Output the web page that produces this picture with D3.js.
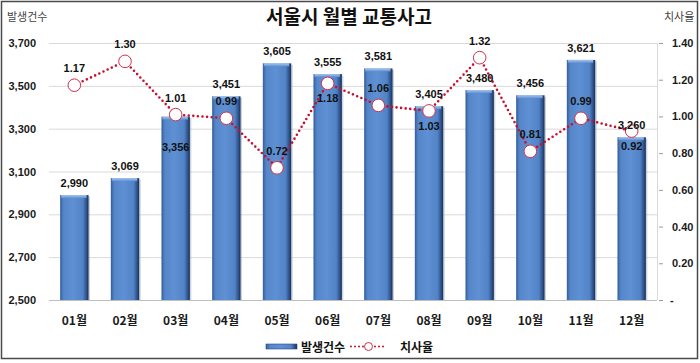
<!DOCTYPE html>
<html><head><meta charset="utf-8">
<script src="https://cdn.jsdelivr.net/npm/d3@7"></script>
<style>
body{margin:0;background:#fff;}
svg{display:block;font-family:"Noto Sans CJK KR","Noto Sans",sans-serif;}
</style></head><body>
<svg id="c" width="700" height="363"></svg>
<script>
const months = ["01월","02월","03월","04월","05월","06월","07월","08월","09월","10월","11월","12월"];
const accidents = [2990,3069,3356,3451,3605,3555,3581,3405,3480,3456,3621,3260];
const fatality = [1.17,1.30,1.01,0.99,0.72,1.18,1.06,1.03,1.32,0.81,0.99,0.92];
const leftTicks = [2500,2700,2900,3100,3300,3500,3700];
const rightTicks = [0,0.2,0.4,0.6,0.8,1.0,1.2,1.4];
const barLabelPos = ["above","above","inside","above","above","above","above","above","above","above","above","above"];
const rateLabelPos = ["above","above","above","above","above","below","above","below","above","above","above","below"];

const svg = d3.select("#c");
const m = {l:49, r:657, t:43, b:300};
const x = d3.scaleBand().domain(months).range([m.l, m.r]).paddingInner(0.44).paddingOuter(0.22);
const yL = d3.scaleLinear().domain([2500,3700]).range([m.b, m.t]);
const yR = d3.scaleLinear().domain([0,1.4]).range([m.b, m.t]);

const defs = svg.append("defs");
const g = defs.append("linearGradient").attr("id","bar").attr("x1","0").attr("x2","1").attr("y1","0").attr("y2","0");
[[0,"#355d9c"],[0.12,"#5586c8"],[0.45,"#5f90d4"],[0.8,"#5283c6"],[0.92,"#2f5590"],[1,"#1a2f52"]].forEach(s=>g.append("stop").attr("offset",s[0]).attr("stop-color",s[1]));
const gt = defs.append("linearGradient").attr("id","bartop").attr("x1","0").attr("x2","0").attr("y1","0").attr("y2","1");
[[0,"#a9c6ee"],[1,"#5f90d4"]].forEach(s=>gt.append("stop").attr("offset",s[0]).attr("stop-color",s[1]));

// border
svg.append("rect").attr("x",1.5).attr("y",1.5).attr("width",696).attr("height",357)
  .attr("fill","#fff").attr("stroke","#4a4a4a").attr("stroke-width",1.5);

// gridlines
svg.append("g").selectAll("line").data(leftTicks).join("line")
  .attr("x1",m.l).attr("x2",m.r).attr("y1",d=>yL(d)+0.5).attr("y2",d=>yL(d)+0.5)
  .attr("stroke",d=>d===2500?"#bfbfbf":"#d9d9d9").attr("stroke-width",1);
// plot right border
svg.append("line").attr("x1",m.r+0.5).attr("x2",m.r+0.5).attr("y1",m.t).attr("y2",m.b).attr("stroke","#d9d9d9");

// left axis labels
svg.append("g").selectAll("text").data(leftTicks).join("text")
  .attr("x",36).attr("y",d=>yL(d)+4).attr("text-anchor","end")
  .attr("font-size",11).attr("font-weight","bold").attr("fill","#1a1a1a").attr("font-family","'Liberation Sans',Arial,sans-serif")
  .text(d3.format(","));
// right axis ticks/labels
svg.append("g").selectAll("line").data(rightTicks).join("line")
  .attr("x1",m.r+2).attr("x2",m.r+6).attr("y1",d=>yR(d)+0.5).attr("y2",d=>yR(d)+0.5).attr("stroke","#9a9a9a");
svg.append("g").selectAll("text").data(rightTicks).join("text")
  .attr("x",d=>d===0?670:672).attr("y",d=>yR(d)+4)
  .attr("font-size",11).attr("font-weight","bold").attr("fill","#1a1a1a").attr("font-family","'Liberation Sans',Arial,sans-serif")
  .text(d=>d===0?"-":d3.format(".2f")(d));

// axis titles
svg.append("text").attr("x",7).attr("y",21).attr("font-size",11).attr("fill","#444").text("발생건수");
svg.append("text").attr("x",664).attr("y",21).attr("font-size",11).attr("fill","#444").text("치사율");
// title
svg.append("text").attr("x",349).attr("y",24).attr("text-anchor","middle").attr("font-size",19).attr("font-weight","bold").attr("fill","#111").text("서울시 월별 교통사고");

// bars
const bars = svg.append("g");
bars.selectAll("rect.s").data(accidents).join("rect").attr("class","s")
  .attr("x",(d,i)=>x(months[i])+1.5).attr("y",d=>yL(d)+1.5).attr("width",x.bandwidth()).attr("height",d=>yL(2500)-yL(d)-1.5)
  .attr("fill","#8d9db5").attr("opacity",0.45);
bars.selectAll("rect.b").data(accidents).join("rect").attr("class","b")
  .attr("x",(d,i)=>x(months[i])).attr("y",d=>yL(d)).attr("width",x.bandwidth()).attr("height",d=>yL(2500)-yL(d))
  .attr("fill","url(#bar)");
bars.selectAll("rect.t").data(accidents).join("rect").attr("class","t")
  .attr("x",(d,i)=>x(months[i])+1).attr("y",d=>yL(d)).attr("width",x.bandwidth()-3).attr("height",3)
  .attr("fill","url(#bartop)");

// line
const cx = i => x(months[i]) + x.bandwidth()/2;
const line = d3.line().x((d,i)=>cx(i)).y(d=>yR(d));
svg.append("path").datum(fatality).attr("d",line).attr("fill","none")
  .attr("stroke","#c8102e").attr("stroke-width",2.6).attr("stroke-dasharray","0,4.6").attr("stroke-linecap","round");
svg.append("g").selectAll("circle").data(fatality).join("circle")
  .attr("cx",(d,i)=>cx(i)).attr("cy",d=>yR(d)).attr("r",6.3)
  .attr("fill","#fff").attr("stroke","#d0304a").attr("stroke-width",1);

const lblFont = "'Liberation Sans',Arial,sans-serif";
// bar labels
svg.append("g").selectAll("text").data(accidents).join("text")
  .attr("x",(d,i)=>cx(i)).attr("y",(d,i)=>barLabelPos[i]==="inside"? yL(d)+34 : yL(d)-8)
  .attr("text-anchor","middle").attr("font-size",11).attr("font-weight","bold").attr("fill","#111").attr("font-family",lblFont)
  .text(d3.format(","));
// rate labels
svg.append("g").selectAll("text").data(fatality).join("text")
  .attr("x",(d,i)=>cx(i)).attr("y",(d,i)=>rateLabelPos[i]==="below"? yR(d)+19 : yR(d)-13)
  .attr("text-anchor","middle").attr("font-size",11).attr("font-weight","bold").attr("fill","#111").attr("font-family",lblFont)
  .text(d3.format(".2f"));

// x labels
svg.append("g").selectAll("text").data(months).join("text")
  .attr("x",d=>x(d)+x.bandwidth()/2).attr("y",325).attr("text-anchor","middle")
  .attr("font-size",12).attr("font-weight","bold").attr("fill","#1a1a1a").text(d=>d);

// legend
const lg = svg.append("g");
lg.append("rect").attr("x",266).attr("y",344).attr("width",31).attr("height",5).attr("fill","url(#bar)");
lg.append("rect").attr("x",266).attr("y",344).attr("width",31).attr("height",5).attr("fill","none").attr("stroke","#2c4c80").attr("stroke-width",0.6);
lg.append("text").attr("x",301).attr("y",352).attr("font-size",12).attr("font-weight","bold").attr("fill","#111").text("발생건수");
lg.append("line").attr("x1",351).attr("x2",386).attr("y1",346.5).attr("y2",346.5)
  .attr("stroke","#c8102e").attr("stroke-width",2).attr("stroke-dasharray","0,4").attr("stroke-linecap","round");
lg.append("circle").attr("cx",368.5).attr("cy",346.5).attr("r",4).attr("fill","#fff").attr("stroke","#d0304a");
lg.append("text").attr("x",400).attr("y",352).attr("font-size",12).attr("font-weight","bold").attr("fill","#111").text("치사율");
</script></body></html>
